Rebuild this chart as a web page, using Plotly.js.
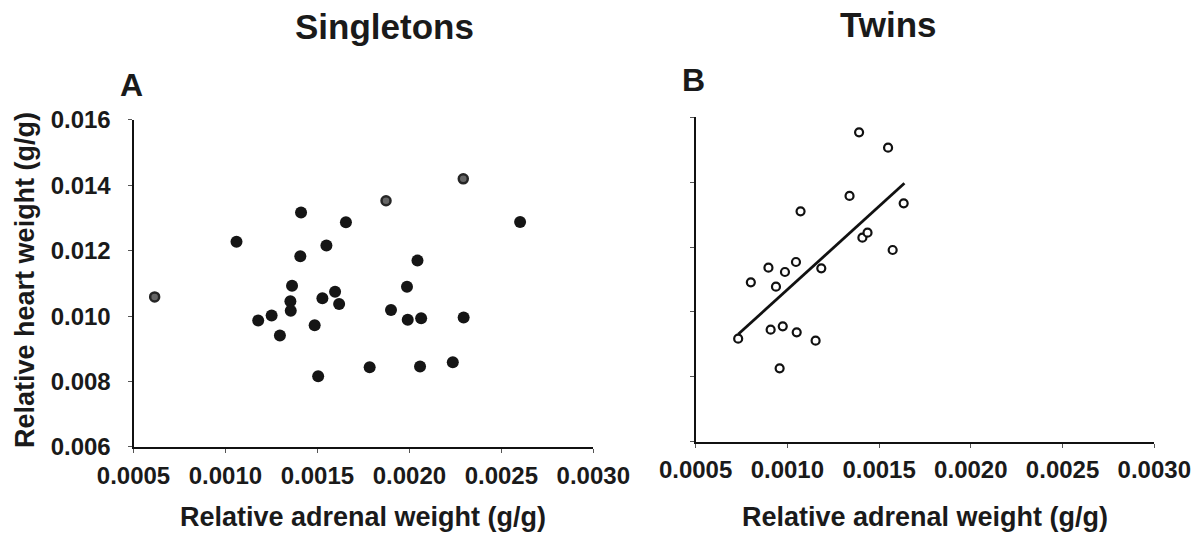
<!DOCTYPE html>
<html>
<head>
<meta charset="utf-8">
<script src="https://cdn.plot.ly/plotly-3.0.1.min.js"></script>
<style>
  html, body { margin: 0; padding: 0; background: #fff; }
  #chart { width: 1200px; height: 539px; }
</style>
</head>
<body>
<div id="chart"></div>
<script>
// Singletons (panel A): relative adrenal weight vs relative heart weight
var singletonsX = [0.00106, 0.001411, 0.001655, 0.002602, 0.001549, 0.001407, 0.002044,
  0.001362, 0.001987, 0.001596, 0.001353, 0.001527, 0.001618, 0.001355, 0.001251,
  0.001178, 0.001296, 0.001485, 0.0019, 0.001991, 0.002064, 0.002295, 0.001504,
  0.001784, 0.002058, 0.002236];
var singletonsY = [0.01228, 0.01317, 0.01287, 0.01288, 0.01216, 0.01183, 0.01170,
  0.01093, 0.01090, 0.01075, 0.01046, 0.01055, 0.01037, 0.01017, 0.01002,
  0.00987, 0.00941, 0.00972, 0.01019, 0.00989, 0.00994, 0.00996, 0.00816,
  0.00844, 0.00846, 0.00859];
// Singletons drawn in grey in the original figure
var singletonsGreyX = [0.000615, 0.001873, 0.002293];
var singletonsGreyY = [0.01059, 0.01353, 0.01420];

// Twins (panel B)
var twinsX = [0.000732, 0.000801, 0.000897, 0.000938, 0.000987, 0.001047, 0.001072,
  0.001185, 0.000909, 0.000975, 0.001051, 0.001154, 0.000958, 0.001339, 0.001391,
  0.001549, 0.001634, 0.001409, 0.001437, 0.001574];
var twinsY = [0.009176, 0.010913, 0.011365, 0.010779, 0.011231, 0.01154, 0.013102,
  0.011344, 0.009453, 0.009556, 0.009371, 0.009114, 0.008261, 0.013575, 0.015538,
  0.015065, 0.013348, 0.01229, 0.012444, 0.01191];
// Twins regression line end points
var twinsFitX = [0.000732, 0.001638];
var twinsFitY = [0.00931, 0.013965];

var xTicks = [0.0005, 0.0010, 0.0015, 0.0020, 0.0025, 0.0030];
var xTickText = ['0.0005', '0.0010', '0.0015', '0.0020', '0.0025', '0.0030'];
var yTicks = [0.006, 0.008, 0.010, 0.012, 0.014, 0.016];
var yTickText = ['0.006', '0.008', '0.010', '0.012', '0.014', '0.016'];

var panelTitles = ['Singletons', 'Twins'];
var panelLetters = ['A', 'B'];
var xTitle = 'Relative adrenal weight (g/g)';
var yTitle = 'Relative heart weight (g/g)';

var FONT = 'Liberation Sans, Arial, Helvetica, sans-serif';

var traces = [
  { x: singletonsX, y: singletonsY, type: 'scatter', mode: 'markers', xaxis: 'x', yaxis: 'y',
    marker: { size: 12, color: '#151515' }, hoverinfo: 'x+y' },
  { x: singletonsGreyX, y: singletonsGreyY, type: 'scatter', mode: 'markers', xaxis: 'x', yaxis: 'y',
    marker: { size: 9, color: '#666', line: { color: '#262626', width: 2.5 } }, hoverinfo: 'x+y' },
  { x: twinsFitX, y: twinsFitY, type: 'scatter', mode: 'lines', xaxis: 'x2', yaxis: 'y2',
    line: { color: '#111', width: 2.8 }, hoverinfo: 'skip' },
  { x: twinsX, y: twinsY, type: 'scatter', mode: 'markers', xaxis: 'x2', yaxis: 'y2',
    marker: { size: 8, color: '#fff', line: { color: '#111', width: 2.2 } }, hoverinfo: 'x+y' }
];

function xAxis(domain, anchor) {
  return {
    domain: domain, anchor: anchor, range: [0.0005, 0.0030],
    tickmode: 'array', tickvals: xTicks, ticktext: xTickText,
    showline: true, linecolor: '#111', linewidth: 2,
    ticks: 'outside', ticklen: 4, tickwidth: 1, tickcolor: '#555',
    showgrid: false, zeroline: false, ticklabelstandoff: 2,
    tickfont: { family: FONT, size: 24, color: '#1a1a1a', weight: 'bold' }
  };
}
function yAxis(domain, anchor, labels) {
  return {
    domain: domain, anchor: anchor, range: [0.006, 0.016],
    tickmode: 'array', tickvals: yTicks, ticktext: yTickText, showticklabels: labels,
    showline: true, linecolor: '#111', linewidth: 2,
    ticks: 'outside', ticklen: 4, tickwidth: 1, tickcolor: '#555',
    showgrid: false, zeroline: false, ticklabelstandoff: 12,
    tickfont: { family: FONT, size: 24, color: '#1a1a1a', weight: 'bold' }
  };
}

function ann(text, x, y, size, extra) {
  var a = { text: text, x: x, y: y, xref: 'paper', yref: 'paper', showarrow: false,
    xanchor: 'center', yanchor: 'middle',
    font: { family: FONT, size: size, color: '#1a1a1a', weight: 'bold' } };
  if (extra) { for (var k in extra) a[k] = extra[k]; }
  return a;
}

var layout = {
  width: 1200, height: 539,
  margin: { l: 0, r: 0, t: 0, b: 0 },
  paper_bgcolor: '#fff', plot_bgcolor: '#fff',
  showlegend: false,
  xaxis: xAxis([0.11125, 0.49442], 'y'),
  yaxis: yAxis([0.17069, 0.77737], 'x', true),
  xaxis2: xAxis([0.57967, 0.96192], 'y2'),
  yaxis2: yAxis([0.18052, 0.78237], 'x2', false),
  annotations: [
    ann(panelTitles[0], 0.3208, 0.950, 35),
    ann(panelTitles[1], 0.7400, 0.955, 35),
    ann(panelLetters[0], 0.1096, 0.843, 32),
    ann(panelLetters[1], 0.5779, 0.851, 32),
    ann(xTitle, 0.3028, 0.040, 27),
    ann(xTitle, 0.7708, 0.040, 27),
    ann(yTitle, 0.0208, 0.4805, 27, { textangle: -90 })
  ]
};

Plotly.newPlot('chart', traces, layout, { displayModeBar: false, staticPlot: true });
</script>
</body>
</html>
